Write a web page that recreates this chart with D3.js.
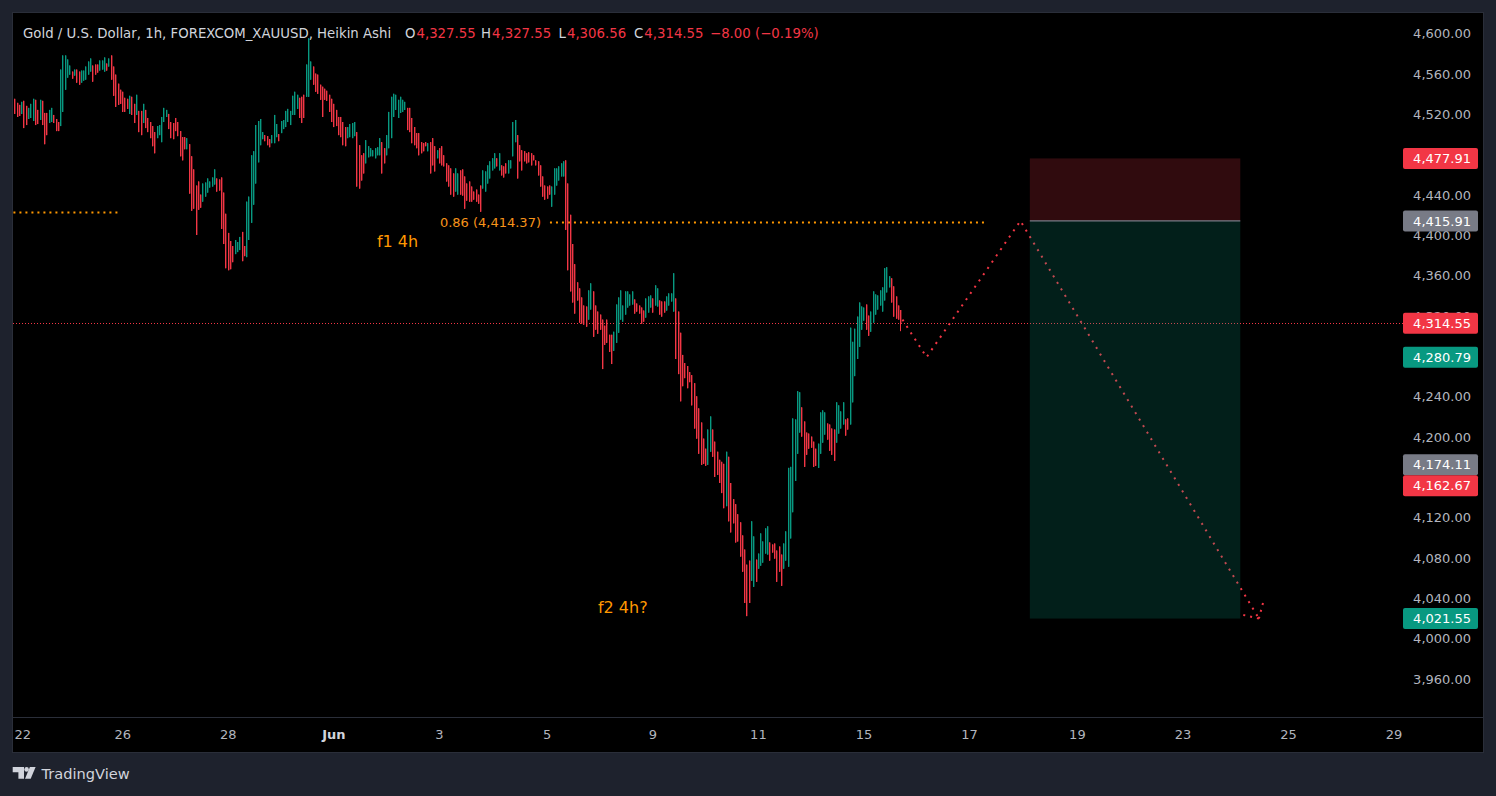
<!DOCTYPE html>
<html>
<head>
<meta charset="utf-8">
<script src="https://cdn.jsdelivr.net/npm/d3@7"></script>
<style>
  html, body { margin: 0; padding: 0; background: #1e222d; overflow: hidden; }
  svg { display: block; font-family: "DejaVu Sans", sans-serif; }
</style>
</head>
<body>
<svg class="chart"></svg>
<script>
// DATA /////////////////////////////////////////
// Heikin Ashi 1h bars, [open, high, low, close]
const candles = [
  [4537,4537,4522,4522],[4533,4533,4519,4519],[4531,4531,4520,4520],[4522,4534,4522,4534],[4535,4535,4508,4508],[4530,4530,4511,4511],
  [4517,4528,4517,4528],[4518,4532,4518,4532],[4515,4537,4515,4537],[4536,4536,4511,4511],[4526,4526,4512,4512],[4516,4536,4516,4536],
  [4535,4535,4511,4511],[4523,4523,4492,4492],[4523,4523,4501,4501],[4513,4526,4513,4526],[4514,4528,4514,4528],[4521,4521,4513,4513],
  [4517,4517,4505,4505],[4514,4514,4505,4505],[4510,4566,4510,4566],[4524,4580,4524,4580],[4546,4580,4546,4580],[4558,4576,4558,4576],
  [4561,4570,4561,4570],[4564,4564,4557,4557],[4560,4566,4560,4566],[4566,4566,4553,4553],[4564,4564,4551,4551],[4553,4565,4553,4565],
  [4555,4565,4555,4565],[4556,4569,4556,4569],[4561,4574,4561,4574],[4564,4577,4564,4577],[4570,4570,4554,4554],[4571,4571,4561,4561],
  [4571,4571,4563,4563],[4565,4575,4565,4575],[4566,4575,4566,4575],[4564,4578,4564,4578],[4572,4572,4565,4565],[4569,4577,4569,4577],
  [4580,4580,4556,4556],[4569,4569,4540,4540],[4561,4561,4529,4529],[4552,4552,4531,4531],[4546,4546,4532,4532],[4544,4544,4524,4524],
  [4538,4538,4524,4524],[4537,4537,4527,4527],[4522,4540,4522,4540],[4539,4539,4521,4521],[4532,4532,4513,4513],[4521,4541,4521,4541],
  [4525,4525,4504,4504],[4525,4525,4501,4501],[4513,4532,4513,4532],[4526,4526,4508,4508],[4518,4518,4504,4504],[4514,4514,4498,4498],
  [4510,4510,4490,4490],[4504,4504,4483,4483],[4498,4510,4498,4510],[4501,4511,4501,4511],[4494,4519,4494,4519],[4514,4528,4514,4528],
  [4519,4526,4519,4526],[4522,4522,4507,4507],[4514,4514,4498,4498],[4513,4513,4497,4497],[4518,4518,4505,4505],[4514,4514,4500,4500],
  [4505,4505,4480,4480],[4499,4499,4476,4476],[4499,4499,4487,4487],[4487,4498,4487,4498],[4492,4492,4443,4443],[4480,4480,4426,4426],
  [4467,4467,4428,4428],[4451,4451,4402,4402],[4455,4455,4427,4427],[4442,4442,4429,4429],[4435,4453,4435,4453],[4440,4454,4440,4454],
  [4444,4458,4444,4458],[4449,4455,4449,4455],[4450,4459,4450,4459],[4452,4467,4452,4467],[4458,4458,4445,4445],[4457,4457,4446,4446],
  [4459,4459,4408,4408],[4444,4444,4393,4393],[4423,4423,4369,4369],[4404,4404,4367,4367],[4396,4396,4368,4368],[4391,4391,4375,4375],
  [4383,4397,4383,4397],[4385,4395,4385,4395],[4387,4400,4387,4400],[4405,4405,4376,4376],[4391,4391,4381,4381],[4380,4435,4380,4435],
  [4397,4440,4397,4440],[4414,4481,4414,4481],[4432,4485,4432,4485],[4453,4511,4453,4511],[4474,4515,4474,4515],[4491,4517,4491,4517],
  [4497,4504,4497,4504],[4501,4501,4495,4495],[4500,4500,4491,4491],[4497,4497,4489,4489],[4493,4501,4493,4501],[4493,4521,4493,4521],
  [4499,4512,4499,4512],[4502,4502,4495,4495],[4503,4515,4503,4515],[4507,4516,4507,4516],[4509,4525,4509,4525],[4514,4527,4514,4527],
  [4511,4525,4511,4525],[4521,4540,4521,4540],[4521,4544,4521,4544],[4527,4541,4527,4541],[4538,4538,4518,4518],[4539,4539,4513,4513],
  [4541,4541,4518,4518],[4539,4571,4539,4571],[4539,4597,4539,4597],[4556,4574,4556,4574],[4569,4569,4551,4551],[4562,4562,4544,4544],
  [4561,4561,4542,4542],[4551,4551,4536,4536],[4549,4549,4519,4519],[4547,4547,4536,4536],[4545,4545,4535,4535],[4541,4541,4524,4524],
  [4537,4537,4514,4514],[4532,4532,4509,4509],[4526,4526,4510,4510],[4519,4519,4501,4501],[4519,4519,4499,4499],[4514,4514,4491,4491],
  [4509,4509,4490,4490],[4498,4509,4498,4509],[4499,4512,4499,4512],[4498,4513,4498,4513],[4500,4514,4500,4514],[4504,4504,4450,4450],
  [4491,4491,4448,4448],[4481,4481,4456,4456],[4483,4483,4463,4463],[4473,4496,4473,4496],[4479,4490,4479,4490],[4480,4488,4480,4488],
  [4480,4486,4480,4486],[4478,4488,4478,4488],[4481,4489,4481,4489],[4481,4498,4481,4498],[4494,4494,4463,4463],[4488,4488,4473,4473],
  [4481,4501,4481,4501],[4488,4524,4488,4524],[4498,4539,4498,4539],[4519,4542,4519,4542],[4526,4541,4526,4541],[4518,4536,4518,4536],
  [4523,4539,4523,4539],[4524,4536,4524,4536],[4526,4534,4526,4534],[4528,4528,4506,4506],[4528,4528,4504,4504],[4518,4518,4493,4493],
  [4509,4509,4491,4491],[4503,4503,4488,4488],[4503,4503,4481,4481],[4494,4494,4483,4483],[4493,4493,4485,4485],[4494,4494,4490,4490],
  [4485,4493,4485,4493],[4494,4494,4463,4463],[4498,4498,4471,4471],[4490,4490,4465,4465],[4478,4486,4478,4486],[4488,4488,4473,4473],
  [4490,4490,4471,4471],[4481,4481,4470,4470],[4473,4473,4455,4455],[4471,4471,4450,4450],[4468,4468,4442,4442],[4463,4463,4440,4440],
  [4445,4468,4445,4468],[4442,4463,4442,4463],[4466,4466,4442,4442],[4467,4467,4441,4441],[4460,4460,4428,4428],[4453,4453,4436,4436],
  [4455,4455,4435,4435],[4450,4450,4435,4435],[4445,4445,4437,4437],[4447,4447,4435,4435],[4442,4442,4433,4433],[4451,4451,4425,4425],
  [4448,4466,4448,4466],[4445,4465,4445,4465],[4453,4471,4453,4471],[4458,4475,4458,4475],[4466,4478,4466,4478],[4468,4483,4468,4483],
  [4478,4478,4470,4470],[4466,4483,4466,4483],[4471,4471,4461,4461],[4470,4470,4459,4459],[4473,4473,4463,4463],[4463,4476,4463,4476],
  [4468,4476,4468,4476],[4480,4514,4480,4514],[4494,4516,4494,4516],[4501,4501,4458,4458],[4491,4491,4475,4475],[4486,4486,4466,4466],
  [4485,4485,4475,4475],[4483,4483,4473,4473],[4484,4484,4474,4474],[4483,4483,4471,4471],[4481,4481,4476,4476],[4476,4476,4471,4471],
  [4475,4475,4461,4461],[4471,4471,4450,4450],[4460,4460,4440,4440],[4451,4451,4437,4437],[4450,4450,4438,4438],[4451,4451,4442,4442],
  [4430,4450,4430,4450],[4442,4468,4442,4468],[4451,4468,4451,4468],[4456,4470,4456,4470],[4460,4473,4460,4473],[4460,4475,4460,4475],
  [4476,4476,4407,4407],[4453,4453,4367,4367],[4422,4422,4346,4346],[4393,4393,4335,4335],[4373,4373,4324,4324],[4355,4355,4337,4337],
  [4349,4349,4315,4315],[4340,4340,4314,4314],[4332,4332,4313,4313],[4331,4331,4311,4311],[4318,4347,4318,4347],[4328,4354,4328,4354],
  [4346,4346,4301,4301],[4332,4332,4308,4308],[4326,4326,4304,4304],[4323,4323,4308,4308],[4318,4318,4269,4269],[4312,4312,4293,4293],
  [4318,4318,4295,4295],[4303,4303,4286,4286],[4303,4303,4274,4274],[4287,4306,4287,4306],[4295,4333,4295,4333],[4305,4340,4305,4340],
  [4318,4347,4318,4347],[4316,4332,4316,4332],[4323,4346,4323,4346],[4330,4346,4330,4346],[4332,4343,4332,4343],[4333,4346,4333,4346],
  [4338,4338,4324,4324],[4334,4334,4326,4326],[4332,4332,4324,4324],[4330,4330,4314,4314],[4327,4327,4316,4316],[4320,4339,4320,4339],
  [4325,4341,4325,4341],[4330,4342,4330,4342],[4339,4339,4325,4325],[4332,4352,4332,4352],[4331,4349,4331,4349],[4337,4337,4323,4323],
  [4336,4336,4321,4321],[4336,4336,4325,4325],[4327,4341,4327,4341],[4332,4344,4332,4344],[4336,4344,4336,4344],[4326,4364,4326,4364],
  [4339,4339,4279,4279],[4326,4326,4264,4264],[4305,4305,4237,4237],[4283,4283,4252,4252],[4275,4275,4260,4260],[4272,4272,4250,4250],
  [4266,4266,4256,4256],[4263,4263,4233,4233],[4255,4255,4210,4210],[4242,4242,4200,4200],[4230,4230,4185,4185],[4216,4216,4174,4174],
  [4200,4200,4175,4175],[4190,4190,4173,4173],[4174,4209,4174,4209],[4187,4222,4187,4222],[4209,4209,4182,4182],[4197,4197,4162,4162],
  [4187,4187,4164,4164],[4179,4179,4156,4156],[4177,4177,4146,4146],[4175,4175,4131,4131],[4133,4187,4133,4187],[4182,4182,4118,4118],
  [4156,4156,4107,4107],[4140,4140,4116,4116],[4135,4135,4097,4097],[4125,4125,4098,4098],[4117,4117,4083,4083],[4104,4104,4068,4068],
  [4090,4090,4037,4037],[4075,4075,4024,4024],[4079,4079,4037,4037],[4059,4118,4059,4118],[4053,4103,4053,4103],[4080,4080,4058,4058],
  [4071,4086,4071,4086],[4074,4106,4074,4106],[4077,4098,4077,4098],[4086,4111,4086,4111],[4085,4113,4085,4113],[4097,4097,4079,4079],
  [4095,4095,4087,4087],[4096,4096,4081,4081],[4089,4089,4058,4058],[4093,4093,4068,4068],[4085,4085,4054,4054],[4071,4096,4071,4096],
  [4079,4108,4079,4108],[4073,4171,4073,4171],[4101,4172,4101,4172],[4127,4220,4127,4220],[4158,4219,4158,4219],[4185,4247,4185,4247],
  [4206,4246,4206,4246],[4231,4231,4202,4202],[4217,4217,4172,4172],[4206,4206,4184,4184],[4205,4205,4190,4190],[4202,4202,4191,4191],
  [4197,4197,4172,4172],[4190,4190,4173,4173],[4171,4195,4171,4195],[4185,4226,4185,4226],[4196,4228,4196,4228],[4204,4226,4204,4226],
  [4215,4215,4199,4199],[4214,4214,4188,4188],[4210,4210,4184,4184],[4209,4209,4178,4178],[4196,4236,4196,4236],[4205,4233,4205,4233],
  [4210,4227,4210,4227],[4214,4236,4214,4236],[4219,4219,4203,4203],[4220,4220,4209,4209],[4214,4310,4214,4310],[4236,4296,4236,4296],
  [4262,4309,4262,4309],[4279,4321,4279,4321],[4291,4335,4291,4335],[4308,4331,4308,4331],[4317,4330,4317,4330],[4333,4333,4308,4308],
  [4322,4322,4302,4302],[4306,4326,4306,4326],[4315,4346,4315,4346],[4323,4343,4323,4343],[4328,4342,4328,4342],[4332,4347,4332,4347],
  [4326,4350,4326,4350],[4337,4369,4337,4369],[4345,4370,4345,4370],[4350,4361,4350,4361],[4359,4359,4335,4335],[4351,4351,4321,4321],
  [4341,4341,4319,4319],[4332,4332,4318,4318],[4327.55,4327.55,4306.56,4314.55]
];

// time axis: bar index of each labelled session
const dayLabels = ["22", "26", "28", "Jun", "3", "5", "9", "11", "15", "17", "19", "23", "25", "29"];
const dayBars = [1, 47, 93, 139, 185, 232, 278, 324, 370, 416, 463, 509, 555, 601];

const priceTicks = [3960, 4000, 4040, 4080, 4120, 4160, 4200, 4240, 4280, 4320, 4360, 4400, 4440, 4480, 4520, 4560, 4600];

// labels sitting on the price scale
const markerPrices = [4477.91, 4415.91, 4314.55, 4280.79, 4174.11, 4162.67, 4021.55];
const markerKinds = ["red", "gray", "red", "green", "gray", "red", "green"];

// drawings
const fibPrices = [4424.3, 4414.37];
const fibStartBars = [-3, 233.4];
const fibEndBars = [45.2, 422.9];
const fibLabelBar = 229.5;
const fibLabel = "0.86 (4,414.37)";

const noteTexts = ["f1 4h", "f2 4h?"];
const noteBars = [158, 254.3];
const notePrices = [4395.5, 4033];

const pathBars = [387, 397.5, 438.4, 542.3];
const pathPrices = [4318, 4280.79, 4415.91, 4021.55];

const positionBars = [442.5, 534.2];
const positionPrices = [4477.91, 4415.91, 4021.55]; // stop, entry, target

const lastPrice = 4314.55;
const headerTitle = "Gold / U.S. Dollar, 1h, FOREXCOM_XAUUSD, Heikin Ashi";
const headerKeys = ["O", "H", "L", "C"];
const headerChange = -8.0;
const headerChangePct = -0.19;

const show = () => {
  // DEFINITIONS /////////////////////////////////
  const W = 1496, H = 796;
  const pane = { left: 13, top: 13, right: 1404, bottom: 717 };
  const frame = { left: 13, top: 13, right: 1483, bottom: 752 };
  const up = "#089981", down = "#f23645", orange = "#ff9800";
  const axisText = "#b2b5be";
  const fmt = d3.format(",.2f");
  const boxH = 21;

  const svg = d3.select(".chart").attr("width", W).attr("height", H);

  const x = d3.scaleLinear().domain([0, 601]).range([14.3, 14.3 + 601 * 2.295]);
  const y = d3.scaleLinear().domain([4000, 4600]).range([640.3, 35.3]);

  // FRAME ////////////////////////////////////////
  svg.append("rect").attr("width", W).attr("height", H).attr("fill", "#1e222d");
  svg
    .append("rect")
    .attr("x", frame.left - 0.5)
    .attr("y", frame.top - 0.5)
    .attr("width", frame.right - frame.left + 1)
    .attr("height", frame.bottom - frame.top + 1)
    .attr("fill", "#000")
    .attr("stroke", "#2a2e39");
  svg
    .append("line")
    .attr("x1", frame.left)
    .attr("x2", frame.right)
    .attr("y1", pane.bottom + 0.5)
    .attr("y2", pane.bottom + 0.5)
    .attr("stroke", "#2a2e39");

  svg
    .append("defs")
    .append("clipPath")
    .attr("id", "pane")
    .append("rect")
    .attr("x", pane.left)
    .attr("y", pane.top)
    .attr("width", pane.right - pane.left)
    .attr("height", pane.bottom - pane.top);

  // price scale labels, pushed apart where they would collide
  const markers = markerPrices
    .map((p, k) => ({ p, kind: markerKinds[k], cy: y(p) }))
    .sort((a, b) => a.cy - b.cy);
  markers.forEach((m, k) => {
    if (k > 0 && m.cy < markers[k - 1].cy + boxH) m.cy = markers[k - 1].cy + boxH;
  });
  // a tick label is hidden when the boxes cover it completely
  const covered = (v) => {
    const c = y(v) - 2.2;
    let top = c - 5;
    markers
      .map((m) => [m.cy - boxH / 2, m.cy + boxH / 2])
      .sort((a, b) => a[0] - b[0])
      .forEach(([a, b]) => {
        if (a <= top + 0.5 && b > top) top = b;
      });
    return top >= c + 5;
  };

  // AXES /////////////////////////////////////////
  const yAxisG = svg
    .append("g")
    .attr("transform", "translate(1471,0)")
    .call(d3.axisLeft(y).tickValues(priceTicks.filter((v) => !covered(v))).tickFormat(fmt).tickSize(0).tickPadding(0));
  yAxisG.select(".domain").remove();
  yAxisG
    .attr("font-size", 13)
    .attr("font-family", null)
    .style("color", axisText)
    .selectAll("text")
    .attr("dy", "0.19em");

  const xAxisG = svg
    .append("g")
    .attr("transform", "translate(0,730)")
    .call(
      d3
        .axisBottom(x)
        .tickValues(dayBars)
        .tickFormat((d, i) => dayLabels[i])
        .tickSize(0)
        .tickPadding(0)
    );
  xAxisG.select(".domain").remove();
  xAxisG.attr("font-size", 13).attr("font-family", null).style("color", axisText);
  xAxisG
    .selectAll("text")
    .filter((d, i) => isNaN(+dayLabels[i]))
    .attr("font-weight", "bold")
    .attr("fill", "#d1d4dc");
  // keep the first label inside the frame, as the platform does
  xAxisG.selectAll("text").each(function () {
    const b = this.getBBox();
    const tx = x(+this.parentNode.__data__);
    if (tx + b.x < frame.left + 1) d3.select(this).attr("x", frame.left + 1 - (tx + b.x));
  });

  // PANE /////////////////////////////////////////
  const paneG = svg.append("g").attr("clip-path", "url(#pane)");

  // fib levels
  fibPrices.forEach((p, k) => {
    paneG
      .append("line")
      .attr("x1", x(fibStartBars[k]))
      .attr("x2", x(fibEndBars[k]))
      .attr("y1", y(p))
      .attr("y2", y(p))
      .attr("stroke", orange)
      .attr("stroke-width", 2)
      .attr("stroke-dasharray", "2 4");
  });
  paneG
    .append("text")
    .attr("x", x(fibLabelBar))
    .attr("y", y(fibPrices[1]) + 4.7)
    .attr("text-anchor", "end")
    .attr("font-size", 13)
    .attr("fill", "#f7931a")
    .text(fibLabel);

  // last price line
  paneG
    .append("line")
    .attr("x1", pane.left)
    .attr("x2", pane.right)
    .attr("y1", Math.round(y(lastPrice)) + 0.5)
    .attr("y2", Math.round(y(lastPrice)) + 0.5)
    .attr("stroke", down)
    .attr("stroke-dasharray", "1 2");

  // candles
  const bars = candles.map((c, i) => ({ i, o: c[0], h: c[1], l: c[2], c: c[3] }));
  const barG = paneG
    .selectAll(".bar")
    .data(bars)
    .join("g")
    .attr("class", "bar")
    .attr("fill", (d) => (d.c >= d.o ? up : down))
    .attr("stroke", (d) => (d.c >= d.o ? up : down));
  barG
    .append("line")
    .attr("x1", (d) => Math.round(x(d.i)) + 0.5)
    .attr("x2", (d) => Math.round(x(d.i)) + 0.5)
    .attr("y1", (d) => y(d.h))
    .attr("y2", (d) => y(d.l))
    .attr("stroke-width", 1);
  barG
    .append("rect")
    .attr("stroke", "none")
    .attr("x", (d) => Math.round(x(d.i)))
    .attr("width", 1.4)
    .attr("y", (d) => y(Math.max(d.o, d.c)))
    .attr("height", (d) => Math.max(1, Math.abs(y(d.o) - y(d.c))));

  // projected path with arrow
  const pts = pathBars.map((b, k) => [x(b), y(pathPrices[k])]);
  paneG
    .append("path")
    .attr("d", d3.line()(pts))
    .attr("fill", "none")
    .attr("stroke", down)
    .attr("stroke-width", 2)
    .attr("stroke-dasharray", "2 5.6");
  const [tx, ty] = pts[pts.length - 1];
  const [px, py] = pts[pts.length - 2];
  const back = Math.atan2(py - ty, px - tx);
  [-0.8, 0.8].forEach((o) => {
    paneG
      .append("line")
      .attr("x1", tx)
      .attr("y1", ty)
      .attr("x2", tx + 16 * Math.cos(back + o))
      .attr("y2", ty + 16 * Math.sin(back + o))
      .attr("stroke", down)
      .attr("stroke-width", 2)
      .attr("stroke-dasharray", "2 5");
  });

  // short position box
  const [stop, entry, target] = positionPrices;
  const bx0 = x(positionBars[0]), bx1 = x(positionBars[1]);
  paneG
    .append("rect")
    .attr("x", bx0)
    .attr("width", bx1 - bx0)
    .attr("y", y(stop))
    .attr("height", y(entry) - y(stop))
    .attr("fill", "rgba(242,54,69,0.2)");
  paneG
    .append("rect")
    .attr("x", bx0)
    .attr("width", bx1 - bx0)
    .attr("y", y(entry))
    .attr("height", y(target) - y(entry))
    .attr("fill", "rgba(8,153,129,0.2)");
  paneG
    .append("line")
    .attr("x1", bx0)
    .attr("x2", bx1)
    .attr("y1", y(entry))
    .attr("y2", y(entry))
    .attr("stroke", "#787b86")
    .attr("stroke-width", 1.2);

  // text notes
  noteTexts.forEach((t, k) => {
    paneG
      .append("text")
      .attr("x", x(noteBars[k]))
      .attr("y", y(notePrices[k]) + 5.8)
      .attr("font-size", 16)
      .attr("fill", orange)
      .text(t);
  });

  // PRICE SCALE LABELS ///////////////////////////
  const kindColor = { red: down, green: up, gray: "#787b86" };
  const markG = svg
    .selectAll(".marker")
    .data(markers)
    .join("g")
    .attr("class", "marker")
    .attr("transform", (d) => `translate(0, ${d.cy})`);
  markG
    .append("rect")
    .attr("x", 1403)
    .attr("y", -boxH / 2)
    .attr("width", 75)
    .attr("height", boxH)
    .attr("rx", 2)
    .attr("fill", (d) => kindColor[d.kind]);
  markG
    .append("text")
    .attr("x", 1471)
    .attr("y", 4.7)
    .attr("text-anchor", "end")
    .attr("font-size", 13)
    .attr("fill", "#fff")
    .text((d) => fmt(d.p));

  // HEADER ///////////////////////////////////////
  const last = candles[candles.length - 1];
  const head = svg.append("text").attr("y", 38).attr("font-size", 13.3).attr("fill", "#d1d4dc");
  head.append("tspan").attr("x", 23).text(headerTitle);
  const keyX = [405, 481, 558.5, 634];
  headerKeys.forEach((k, j) => {
    head.append("tspan").attr("x", keyX[j]).text(k);
    head.append("tspan").attr("fill", down).attr("dx", 1).text(fmt(last[j]));
  });
  head
    .append("tspan")
    .attr("x", 710)
    .attr("fill", down)
    .text(`${d3.format(".2f")(headerChange)} (${d3.format(".2f")(headerChangePct)}%)`);

  // LOGO /////////////////////////////////////////
  const logo = svg.append("g").attr("fill", "#d1d4dc");
  logo.append("path").attr("d", "M12.7,767 H24 V778.7 H18.4 V772.2 H12.7 Z");
  logo.append("circle").attr("cx", 26.6).attr("cy", 769.4).attr("r", 2.3);
  logo.append("path").attr("d", "M29.9,767 H35.6 L30.7,778.7 H25 Z");
  logo
    .append("text")
    .attr("x", 41.5)
    .attr("y", 778.6)
    .attr("font-size", 14.6)
    .text("TradingView");
};

show();
</script>
</body>
</html>
